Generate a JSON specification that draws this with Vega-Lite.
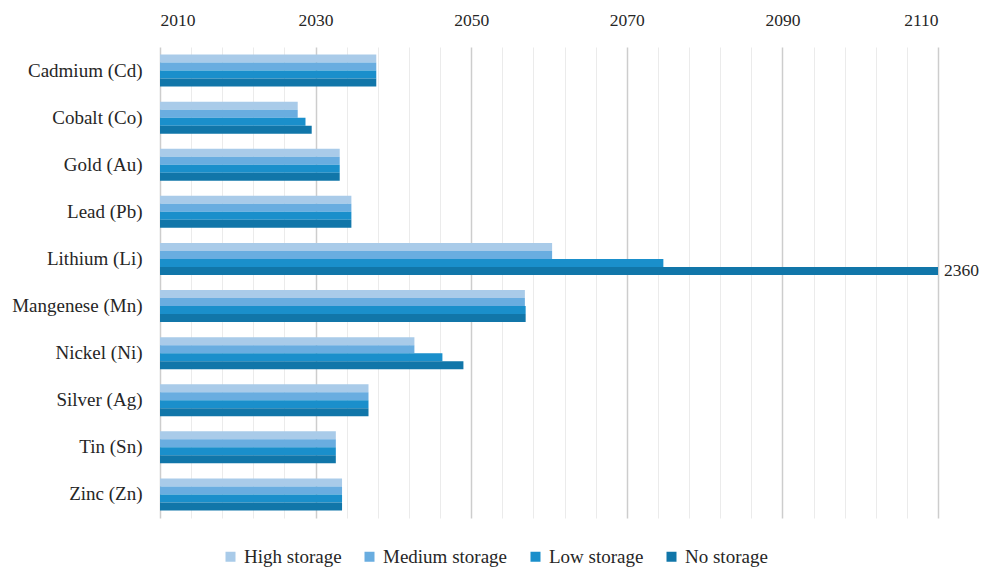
{
  "$schema": "https://vega.github.io/schema/vega-lite/v6.json",
  "width": 778,
  "height": 471,
  "autosize": {"type": "none"},
  "padding": {"left": 160, "top": 47, "right": 44, "bottom": 52},
  "background": "white",
  "config": {
    "font": "Liberation Serif",
    "axis": {"labelFont": "Liberation Serif"},
    "legend": {"labelFont": "Liberation Serif"},
    "text": {"font": "Liberation Serif"},
    "view": {"stroke": null}
  },
  "data": {
    "values": [
      {"material": "Cadmium (Cd)", "scenario": "High storage", "year": 2037.8},
      {"material": "Cadmium (Cd)", "scenario": "Medium storage", "year": 2037.8},
      {"material": "Cadmium (Cd)", "scenario": "Low storage", "year": 2037.8},
      {"material": "Cadmium (Cd)", "scenario": "No storage", "year": 2037.8},
      {"material": "Cobalt (Co)", "scenario": "High storage", "year": 2027.7},
      {"material": "Cobalt (Co)", "scenario": "Medium storage", "year": 2027.7},
      {"material": "Cobalt (Co)", "scenario": "Low storage", "year": 2028.7},
      {"material": "Cobalt (Co)", "scenario": "No storage", "year": 2029.5},
      {"material": "Gold (Au)", "scenario": "High storage", "year": 2033.1},
      {"material": "Gold (Au)", "scenario": "Medium storage", "year": 2033.1},
      {"material": "Gold (Au)", "scenario": "Low storage", "year": 2033.1},
      {"material": "Gold (Au)", "scenario": "No storage", "year": 2033.1},
      {"material": "Lead (Pb)", "scenario": "High storage", "year": 2034.6},
      {"material": "Lead (Pb)", "scenario": "Medium storage", "year": 2034.6},
      {"material": "Lead (Pb)", "scenario": "Low storage", "year": 2034.6},
      {"material": "Lead (Pb)", "scenario": "No storage", "year": 2034.6},
      {"material": "Lithium (Li)", "scenario": "High storage", "year": 2060.4},
      {"material": "Lithium (Li)", "scenario": "Medium storage", "year": 2060.4},
      {"material": "Lithium (Li)", "scenario": "Low storage", "year": 2074.7},
      {"material": "Lithium (Li)", "scenario": "No storage", "year": 2360},
      {"material": "Mangenese (Mn)", "scenario": "High storage", "year": 2056.9},
      {"material": "Mangenese (Mn)", "scenario": "Medium storage", "year": 2056.9},
      {"material": "Mangenese (Mn)", "scenario": "Low storage", "year": 2057.0},
      {"material": "Mangenese (Mn)", "scenario": "No storage", "year": 2057.0},
      {"material": "Nickel (Ni)", "scenario": "High storage", "year": 2042.7},
      {"material": "Nickel (Ni)", "scenario": "Medium storage", "year": 2042.7},
      {"material": "Nickel (Ni)", "scenario": "Low storage", "year": 2046.3},
      {"material": "Nickel (Ni)", "scenario": "No storage", "year": 2049.0},
      {"material": "Silver (Ag)", "scenario": "High storage", "year": 2036.8},
      {"material": "Silver (Ag)", "scenario": "Medium storage", "year": 2036.8},
      {"material": "Silver (Ag)", "scenario": "Low storage", "year": 2036.8},
      {"material": "Silver (Ag)", "scenario": "No storage", "year": 2036.8},
      {"material": "Tin (Sn)", "scenario": "High storage", "year": 2032.6},
      {"material": "Tin (Sn)", "scenario": "Medium storage", "year": 2032.6},
      {"material": "Tin (Sn)", "scenario": "Low storage", "year": 2032.6},
      {"material": "Tin (Sn)", "scenario": "No storage", "year": 2032.6},
      {"material": "Zinc (Zn)", "scenario": "High storage", "year": 2033.4},
      {"material": "Zinc (Zn)", "scenario": "Medium storage", "year": 2033.4},
      {"material": "Zinc (Zn)", "scenario": "Low storage", "year": 2033.4},
      {"material": "Zinc (Zn)", "scenario": "No storage", "year": 2033.4}
    ]
  },
  "encoding": {
    "y": {
      "field": "material",
      "type": "nominal",
      "sort": null,
      "scale": {"paddingInner": 0.32, "paddingOuter": 0.16},
      "axis": {
        "title": null,
        "ticks": false,
        "domain": false,
        "labelFont": "Liberation Serif",
        "labelFontSize": 19,
        "labelColor": "#262626",
        "labelPadding": 18
      }
    },
    "yOffset": {
      "field": "scenario",
      "type": "nominal",
      "sort": ["High storage", "Medium storage", "Low storage", "No storage"]
    }
  },
  "layer": [
    {
      "mark": {"type": "bar", "clip": true},
      "encoding": {
        "x": {
          "field": "year",
          "type": "quantitative",
          "scale": {"domain": [2010, 2110], "clamp": true, "zero": false, "nice": false},
          "axis": {
            "orient": "top",
            "title": null,
            "values": [2010, 2014, 2018, 2022, 2026, 2030, 2034, 2038, 2042, 2046, 2050, 2054, 2058, 2062, 2066, 2070, 2074, 2078, 2082, 2086, 2090, 2094, 2098, 2102, 2106, 2110],
            "tickCount": 30,
            "format": "d",
            "labelExpr": "datum.value % 20 == 10 ? datum.label : ''",
            "labelOverlap": false,
            "labelFont": "Liberation Serif",
            "labelFontSize": 17.5,
            "labelColor": "#262626",
            "labelPadding": 18,
            "ticks": false,
            "domain": false,
            "grid": true,
            "gridColor": {
              "condition": {"test": "datum.value % 20 == 10", "value": "#cdcdcd"},
              "value": "#ebebeb"
            },
            "gridWidth": {
              "condition": {"test": "datum.value % 20 == 10", "value": 1.5},
              "value": 1
            }
          }
        },
        "x2": {"datum": 2010},
        "color": {
          "field": "scenario",
          "type": "nominal",
          "scale": {
            "domain": ["High storage", "Medium storage", "Low storage", "No storage"],
            "range": ["#a9cbe9", "#69ade0", "#1a8fcb", "#1176a9"]
          },
          "legend": {
            "title": null,
            "orient": "none",
            "direction": "horizontal",
            "legendX": 61,
            "legendY": 500,
            "symbolType": "square",
            "symbolSize": 100,
            "symbolStrokeWidth": 0,
            "labelFont": "Liberation Serif",
            "labelFontSize": 19,
            "labelColor": "#262626",
            "labelOffset": 4,
            "columnPadding": 18
          }
        }
      }
    },
    {
      "transform": [{"filter": "datum.year > 2110"}],
      "mark": {"type": "text", "align": "left", "baseline": "middle", "dx": 6, "font": "Liberation Serif", "fontSize": 17.5, "color": "#262626"},
      "encoding": {
        "x": {"field": "year", "type": "quantitative"},
        "text": {"field": "year", "type": "quantitative", "format": "d"}
      }
    }
  ]
}
